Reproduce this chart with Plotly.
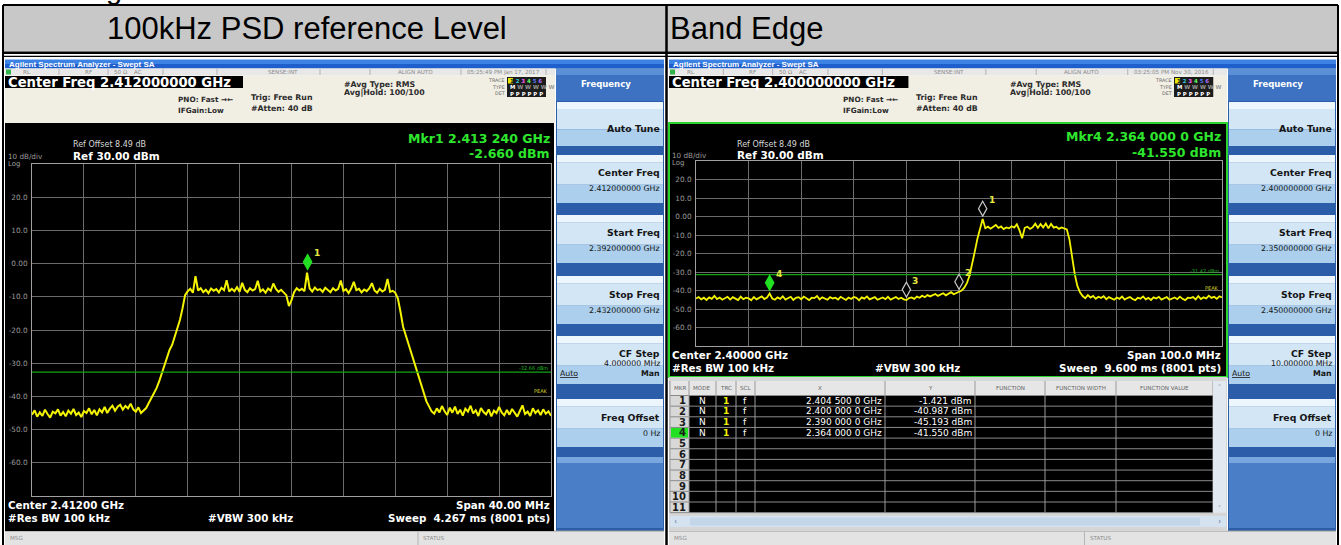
import plotly.graph_objects as go

W, H = 1341, 545

# ------------------------------------------------------------------ data
TITLE_LEFT = "100kHz PSD reference Level"
TITLE_RIGHT = "Band Edge"

REF_LEVEL_DBM = 30.0
DB_PER_DIV = 10.0
N_DIV = 10
Y_TICKS_DBM = [20, 10, 0, -10, -20, -30, -40, -50, -60]

# left screen: 100 kHz PSD reference level, 2.392 - 2.432 GHz
LEFT_START_GHZ = 2.392
LEFT_STOP_GHZ = 2.432
LEFT_STEP_GHZ = 0.0002
LEFT_TRACE_DBM = [
    -45.5, -44.2, -46.1, -44.8, -45.9, -44.0, -45.3, -46.4, -44.6, -45.1,
    -43.9, -45.8, -44.7, -46.0, -44.3, -45.2, -43.8, -45.6, -44.9, -46.2,
    -44.4, -45.0, -43.6, -45.4, -44.1, -45.7, -43.9, -44.8, -43.2, -45.0,
    -43.7, -42.8, -44.3, -43.1, -42.5, -44.0, -42.9, -43.6, -42.2, -43.9,
    -44.6, -43.3, -45.0,
    -44.2, -43.5, -42.0, -40.5, -39.0, -37.5, -35.5, -33.0, -30.5, -28.0,
    -26.0, -24.5, -22.0, -19.5, -17.0, -13.5, -9.5,
    -8.3, -7.6, -8.8, -3.8, -8.1, -7.4, -8.6, -7.9, -8.9, -7.5,
    -8.2, -7.7, -8.7, -7.3, -8.0, -5.0, -8.4, -7.6, -8.3, -7.1,
    -8.5, -5.8, -7.9, -8.6, -7.4, -8.1, -7.7, -5.2, -8.4, -7.8,
    -8.8, -7.5, -8.2, -6.0, -7.6, -8.5, -7.9, -8.7, -9.5, -12.8,
    -11.0, -8.6, -7.4, -8.1, -7.6, -8.3, -2.7, -7.5, -8.4, -7.2,
    -8.0, -7.7, -8.5, -7.3, -7.9, -8.6, -7.4, -8.1, -7.6, -5.1,
    -8.2, -7.7, -8.9, -7.5, -5.5, -8.0, -7.6, -8.7, -7.8, -8.3,
    -7.4, -5.9, -8.1, -8.8, -7.6, -8.4, -7.9, -4.6, -8.5, -8.2,
    -8.8,
    -10.5, -14.5, -19.0, -21.5, -24.0, -26.5, -29.0, -31.5, -34.0, -36.5,
    -39.0, -41.5, -43.0, -44.5,
    -45.2, -43.6, -44.8, -42.9, -44.5, -45.6, -43.4, -44.9, -43.1, -45.3,
    -44.0, -45.8, -43.7, -44.6, -42.8, -45.1, -44.2, -45.9, -43.5, -44.7,
    -45.4, -43.9, -46.0, -44.3, -45.0, -43.2, -44.8, -45.7, -44.1, -45.5,
    -43.8, -44.9, -46.1, -44.4, -42.7, -45.3, -44.6, -45.9, -43.6, -45.0,
    -44.2, -45.6, -43.9, -45.2, -44.5, -45.8,
]
LEFT_MKR_ID = [1]
LEFT_MKR_GHZ = [2.41324]
LEFT_MKR_DBM = [-2.660]
LEFT_ACTIVE_MKR = 1
LEFT_DISPLAY_LINE_DBM = -32.66

# right screen: band edge, 2.35 - 2.45 GHz
RIGHT_START_GHZ = 2.350
RIGHT_STOP_GHZ = 2.450
RIGHT_STEP_GHZ = 0.0005
RIGHT_TRACE_DBM = [
    -44.3, -43.5, -44.8, -43.9, -45.1, -43.7, -44.5, -42.9, -44.6, -43.8,
    -45.0, -44.1, -43.4, -44.9, -43.6, -44.4, -45.2, -43.3, -44.7, -43.9,
    -44.2, -45.3, -43.5, -44.8, -44.0, -43.2, -44.6, -43.8, -41.6, -44.3,
    -45.0, -43.7, -44.5, -43.1, -44.9, -44.2, -43.4, -45.1, -44.0, -43.6,
    -44.7, -43.3, -44.4, -45.2, -43.9, -44.1, -43.0, -44.8, -43.7, -44.5,
    -45.0, -43.6, -44.3, -43.9, -44.9, -43.4, -44.2, -45.1, -43.8, -44.6,
    -43.5, -44.0, -45.3, -43.7, -44.4, -43.2, -44.8, -44.1, -43.6, -45.0,
    -44.3, -43.8, -44.7, -43.4, -44.9, -44.0, -43.5, -44.6, -43.9, -44.8,
    -45.2, -44.1, -43.7, -44.5, -43.3, -43.9, -42.8, -43.6, -42.5, -43.2,
    -42.7, -41.9, -42.9, -42.2, -41.5, -42.6, -41.8, -40.9, -42.0, -41.3,
    -41.0,
    -40.0, -38.5, -36.0, -32.0, -26.0, -19.0, -12.0, -7.0,
    -1.4, -6.3, -5.5, -6.6, -5.8, -4.6, -6.2, -5.4, -6.8, -5.9,
    -6.4, -5.3, -6.0, -4.2, -7.5, -11.8, -6.1, -5.5, -6.7, -5.8,
    -3.9, -6.2, -4.1, -5.9, -3.8, -6.4, -4.0, -6.0, -5.6, -6.7,
    -5.9, -6.5, -7.0,
    -12.5, -22.0, -31.0, -37.5, -41.0, -43.0,
    -44.2, -42.5, -43.8, -42.9, -44.5, -43.4, -44.0, -43.1, -44.7, -43.6,
    -44.3, -45.0, -43.8, -44.5, -43.3, -44.9, -44.1, -43.5, -44.6, -45.2,
    -43.9, -44.4, -43.2, -44.8, -44.0, -45.1, -43.7, -44.3, -43.4, -44.9,
    -44.2, -43.6, -45.0, -44.4, -43.8, -44.7, -43.3, -44.5, -45.2, -43.9,
    -44.1, -43.5, -44.8, -43.0, -44.6, -43.7, -44.3, -42.8, -44.0, -43.4,
    -44.5, -43.1, -43.8,
]
RIGHT_MKR_ID = [1, 2, 3, 4]
RIGHT_MKR_GHZ = [2.4045, 2.4000, 2.3900, 2.3640]
RIGHT_MKR_DBM = [-1.421, -40.987, -45.193, -41.550]
RIGHT_ACTIVE_MKR = 4
RIGHT_DISPLAY_LINE_DBM = -31.42

LEFT_SCREEN_TEXT = dict(
    cf="2.412000000 GHz", stamp="05:25:49 PM Jan 17, 2017",
    center="Center 2.41200 GHz", span="Span 40.00 MHz",
    sweep="Sweep\u00a0\u00a04.267 ms (8001 pts)",
    mkr="Mkr1 2.413 240 GHz", mkrval="-2.660 dBm",
    keys=[("Center Freq", "2.412000000 GHz"), ("Start Freq", "2.392000000 GHz"),
          ("Stop Freq", "2.432000000 GHz"), ("CF Step", "4.000000 MHz"),
          ("Freq Offset", "0 Hz")],
)
RIGHT_SCREEN_TEXT = dict(
    cf="2.400000000 GHz", stamp="03:25:05 PM Nov 30, 2016",
    center="Center 2.40000 GHz", span="Span 100.0 MHz",
    sweep="Sweep\u00a0\u00a09.600 ms (8001 pts)",
    mkr="Mkr4 2.364 000 0 GHz", mkrval="-41.550 dBm",
    keys=[("Center Freq", "2.400000000 GHz"), ("Start Freq", "2.350000000 GHz"),
          ("Stop Freq", "2.450000000 GHz"), ("CF Step", "10.000000 MHz"),
          ("Freq Offset", "0 Hz")],
)
TABLE_HEADERS = ["MKR", "MODE", "TRC", "SCL", "X", "Y", "FUNCTION",
                 "FUNCTION WIDTH", "FUNCTION VALUE"]
TABLE_ROWS = 11

# ------------------------------------------------------------------ helpers
UI = "DejaVu Sans"
ARIAL = "Liberation Sans"


def px(x):
    return x / W


def py(y):
    return 1.0 - y / H


shapes = []
annos = []


def rect(x0, y0, x1, y1, fill, lc=None, lw=0, layer="below"):
    shapes.append(dict(type="rect", xref="paper", yref="paper", layer=layer,
                       x0=px(x0), x1=px(x1), y0=py(y1), y1=py(y0),
                       fillcolor=fill,
                       line=dict(color=lc or "rgba(0,0,0,0)", width=lw)))


def seg(x0, y0, x1, y1, color, width=1, layer="below"):
    shapes.append(dict(type="line", xref="paper", yref="paper", layer=layer,
                       x0=px(x0), x1=px(x1), y0=py(y0), y1=py(y1),
                       line=dict(color=color, width=width)))


def txt(x, y, s, size, color, anchor="left", bold=False, family=UI):
    annos.append(dict(xref="paper", yref="paper", x=px(x), y=py(y), text=s,
                      showarrow=False, xanchor=anchor, yanchor="middle",
                      borderpad=0,
                      font=dict(family=family, size=size, color=color,
                                weight="bold" if bold else "normal")))


def fmt_tick(v):
    return "0.00" if v == 0 else f"{v:.1f}"


def fmt_ghz(v):
    s = f"{v:.7f}"
    return f"{s[:5]} {s[5:8]} {s[8:]} GHz"


# ------------------------------------------------------------------ page frame
rect(3, 5, 1338, 51.5, "#c8c8c8")
seg(3, 5, 1338, 5, "black", 2)
seg(3, 5, 3, 545, "black", 2)
seg(1338, 5, 1338, 545, "black", 2)
seg(666.5, 5, 666.5, 545, "black", 2.5)
rect(3, 51.5, 1338, 54, "black")
rect(3, 55.8, 1338, 57, "black")
txt(106, 28, TITLE_LEFT, 31, "black", family=ARIAL)
txt(669, 28, TITLE_RIGHT, 31, "black", family=ARIAL)
annos.append(dict(xref="paper", yref="paper", x=px(104), y=py(7), text="g",
                  showarrow=False, xanchor="left", yanchor="bottom",
                  font=dict(family=ARIAL, size=29, color="black")))


def button(x0, x1, y0, y1):
    h = y1 - y0
    rect(x0, y0, x1, y0 + h * 0.16, "#eef6fd")
    rect(x0, y0 + h * 0.16, x1, y0 + h * 0.62, "#d2e6f6")
    rect(x0, y0 + h * 0.62, x1, y1, "#abcfec")


TOP_BAR = (59.5, 68.5)
STATUS = (68.5, 75.5)
CF_BOX = (76, 88)
BLACK_TOP = 123


def panel(p, T):
    b, e, s = p["x0"], p["x1"], p["s"]

    def X(r):
        return b + r * s

    sx0, sx1 = p["side"]
    # title bar
    rect(b, TOP_BAR[0], e, 64, "#3c82e4")
    rect(b, 64, e, TOP_BAR[1], "#1f5fcb")
    txt(X(3), 64, "Agilent Spectrum Analyzer - Swept SA", 8, "white",
        bold=True, family=ARIAL)
    # status row
    rect(b, STATUS[0], sx0 - 1, STATUS[1], "#e8e8e8")
    rect(X(1), 69.5, X(6), 74.5, "#2fb34a")
    for r in [54, 103, 158, 212, 315, 365, 456, 541]:
        seg(X(r), 69, X(r), 75, "#b4b4b4", 1)
    for r, lab in [(17, "RL"), (79, "RF"), (108, "50 \u03a9"), (128, "AC"),
                   (262, "SENSE:INT"), (392, "ALIGN AUTO"), (461, T["stamp"])]:
        txt(X(r), 72, lab, 5.6, "#8c8c8c")
    # beige settings area
    rect(b, STATUS[1], sx0 - 1, BLACK_TOP, "#f1eee4")
    rect(b, CF_BOX[0], X(238), CF_BOX[1], "black")
    txt(X(2), 82, "Center Freq " + T["cf"], 13.2, "white", bold=True)
    dark = "#2b2b2b"
    txt(X(172), 99.5, "PNO: Fast \u2192\u2190", 7.3, dark, bold=True)
    txt(X(172), 110, "IFGain:Low", 7.3, dark, bold=True)
    txt(X(245), 97.5, "Trig: Free Run", 7.8, dark, bold=True)
    txt(X(245), 108, "#Atten: 40 dB", 7.8, dark, bold=True)
    txt(X(338), 85, "#Avg Type: RMS", 7.8, dark, bold=True)
    txt(X(338), 92.5, "Avg|Hold: 100/100", 7.8, dark, bold=True)
    for yy, lab in [(80.5, "TRACE"), (87, "TYPE"), (93.5, "DET")]:
        txt(X(501), yy, lab, 4.8, "#666", anchor="right")
    rect(X(502), 77, X(541), 97, "#1c1c1c")
    cols = ["#202020", "#30d0e0", "#ff60ff", "#60ff60", "#5a78ff", "#b070ff"]
    row1 = " ".join(f"<span style='color:{c}'>{k + 1}</span>"
                    for k, c in enumerate(cols))
    rect(X(503), 78, X(508), 83.5, "#e6e600")
    txt(X(504), 80.7, row1, 5.4, "white", bold=True)
    txt(X(504), 87.1, "M <span style='color:#9a9a9a'>W W W W W</span>", 5.4,
        "white", bold=True)
    txt(X(504), 93.5, "P P P P P P", 5.4, "white", bold=True)

    # side menu
    rect(sx0, STATUS[0], sx1, 531, "#2b5da8")
    rect(sx0, STATUS[0], sx1, 75, "#5b8fd6")
    rect(sx0, 75, sx1, 101, "#3d72c2")
    txt((sx0 + sx1) / 2 - 4, 84, "Frequency", 8.5, "white", bold=True,
        anchor="center")
    button(sx0 + 1, sx1 - 1, 102, 146)
    txt(sx1 - 3, 128, "Auto Tune", 9.3, "#151515", bold=True, anchor="right")
    tops = [155, 215, 276, 336, 399]
    for (lab, val), t in zip(T["keys"], tops):
        button(sx0 + 1, sx1 - 1, t, t + 48)
        if lab == "CF Step":
            txt(sx1 - 3, t + 17, lab, 9.3, "#151515", bold=True, anchor="right")
            txt(sx1 - 3, t + 27, val, 7.8, "#151515", anchor="right")
            txt(sx0 + 3, t + 37, "<u>Auto</u>", 7.8, "#151515")
            txt(sx1 - 3, t + 37, "Man", 7.8, "#151515", bold=True, anchor="right")
        else:
            txt(sx1 - 3, t + 18, lab, 9.3, "#151515", bold=True, anchor="right")
            txt(sx1 - 3, t + 34, val, 7.8, "#151515", anchor="right")
    rect(sx0 + 1, 457, sx1 - 1, 463, "#7aa6e0")
    rect(sx0 + 1, 463, sx1 - 1, 528, "#4a7fc8")

    # message bar
    rect(b, 531, e, 545, "#e3e3e3")
    seg(b, 531, e, 531, "#9a9a9a", 1)
    txt(X(4), 538, "MSG", 5.6, "#8c8c8c")
    seg(X(413), 532, X(413), 545, "#b4b4b4", 1)
    txt(X(417), 538, "STATUS", 5.6, "#8c8c8c")


LEFT = dict(x0=5, x1=664, s=1.0, side=(556, 664),
            grid=(32, 551, 164, 496))
RIGHT = dict(x0=669, x1=1336, s=1.006, side=(1228, 1336),
             grid=(696, 1222, 161, 346))

panel(LEFT, LEFT_SCREEN_TEXT)
panel(RIGHT, RIGHT_SCREEN_TEXT)

# left black measurement area
rect(5, BLACK_TOP, 554, 531, "black")
# right black measurement area with active-window border
rect(669, BLACK_TOP, 1227, 377, "black", lc="#2bd42b", lw=2)


def screen_text(p, T, ref_y, mkr_y):
    gx1 = p["grid"][1]
    b = p["x0"]
    gy1 = p["grid"][3]
    txt(b + 67, ref_y - 10.5, "Ref Offset 8.49 dB", 8, "#d8d8d8")
    txt(b + 67, ref_y, "Ref 30.00 dBm", 10.5, "white", bold=True)
    txt(b + 2, ref_y + 1, "10 dB/div", 7.2, "#9c9c9c")
    txt(b + 2, ref_y + 8.5, "Log", 7, "#9c9c9c")
    txt(gx1, mkr_y, T["mkr"], 12.5, "#2ee62e", bold=True, anchor="right")
    txt(gx1, mkr_y + 15, T["mkrval"], 12.5, "#2ee62e", bold=True, anchor="right")
    txt(b + 2, gy1 + 8.5, T["center"], 10.3, "white", bold=True)
    txt(b + 2, gy1 + 22, "#Res BW 100 kHz", 10.3, "white", bold=True)
    txt(b + (gx1 - b) * 0.45, gy1 + 22, "#VBW 300 kHz", 10.3, "white",
        bold=True, anchor="center")
    txt(gx1, gy1 + 8.5, T["span"], 10.3, "white", bold=True, anchor="right")
    txt(gx1, gy1 + 22, T["sweep"], 10.3, "white", bold=True, anchor="right")


screen_text(LEFT, LEFT_SCREEN_TEXT, 155.5, 138.5)
screen_text(RIGHT, RIGHT_SCREEN_TEXT, 154.5, 137)

# ------------------------------------------------------------------ marker table (right)
TX0, TX1 = 669, 1227
rect(TX0, 377, TX1, 531, "#d6d6d6")
COL_EDGES = [670, 689, 716, 736, 755, 885, 975, 1045, 1116, 1213]
HDR_Y0, ROW_Y0, ROW_H = 381, 395.5, 10.65
rect(670, HDR_Y0, 1213, ROW_Y0, "#e6e6e6")
rect(689, ROW_Y0, 1213, ROW_Y0 + TABLE_ROWS * ROW_H, "black")
rect(670, ROW_Y0, 689, ROW_Y0 + TABLE_ROWS * ROW_H, "#d8d8d8")
for k in range(TABLE_ROWS + 1):
    yy = ROW_Y0 + k * ROW_H
    seg(670, yy, 1213, yy, "#8a8a8a", 1)
for xe in COL_EDGES:
    seg(xe, HDR_Y0, xe, ROW_Y0 + TABLE_ROWS * ROW_H, "#9a9a9a", 1)
for lab, a, c in zip(TABLE_HEADERS, COL_EDGES[:-1], COL_EDGES[1:]):
    txt((a + c) / 2, (HDR_Y0 + ROW_Y0) / 2, lab, 5.6, "#666", anchor="center")
for k in range(TABLE_ROWS):
    yc = ROW_Y0 + (k + 0.5) * ROW_H
    num = k + 1
    if num == RIGHT_ACTIVE_MKR:
        rect(671, ROW_Y0 + k * ROW_H + 0.5, 688, ROW_Y0 + (k + 1) * ROW_H - 0.5,
             "#22e022")
    txt(687, yc, str(num), 10, "#1a1a1a", bold=True, anchor="right")
for mid, ghz, dbm in zip(RIGHT_MKR_ID, RIGHT_MKR_GHZ, RIGHT_MKR_DBM):
    yc = ROW_Y0 + (mid - 0.5) * ROW_H
    txt(702.5, yc, "N", 9, "white", anchor="center")
    txt(726, yc, "1", 9, "#f0f000", bold=True, anchor="center")
    txt(745.5, yc, "f", 9, "white", anchor="center")
    txt(883, yc, fmt_ghz(ghz), 9, "white", anchor="right")
    txt(973, yc, f"{dbm:.3f} dBm", 9, "white", anchor="right")
# scrollbars
rect(1213, HDR_Y0, 1226, ROW_Y0 + TABLE_ROWS * ROW_H, "#e2e8ef")
txt(1219.5, HDR_Y0 + 5, "\u02c4", 6, "#6a7c94", anchor="center")
txt(1219.5, ROW_Y0 + TABLE_ROWS * ROW_H - 5, "\u02c5", 6, "#6a7c94", anchor="center")
rect(670, 516, 1226, 527, "#d5e3f1")
rect(690, 517.5, 1200, 525.5, "#c3d6ea")
txt(673, 521.5, "\u2039", 8, "#6a7c94")
txt(1222, 521.5, "\u203a", 8, "#6a7c94", anchor="right")

# ------------------------------------------------------------------ spectrum plots
fig = go.Figure()


def trace_x(start, step, vals):
    return [start + step * i for i in range(len(vals))]


fig.add_trace(go.Scatter(
    x=trace_x(LEFT_START_GHZ, LEFT_STEP_GHZ, LEFT_TRACE_DBM), y=LEFT_TRACE_DBM,
    xaxis="x", yaxis="y", mode="lines", hoverinfo="skip",
    line=dict(color="#f4f400", width=2.0)))
fig.add_trace(go.Scatter(
    x=trace_x(RIGHT_START_GHZ, RIGHT_STEP_GHZ, RIGHT_TRACE_DBM), y=RIGHT_TRACE_DBM,
    xaxis="x2", yaxis="y2", mode="lines", hoverinfo="skip",
    line=dict(color="#f4f400", width=1.8)))


def axes(p, start, stop):
    gx0, gx1, gy0, gy1 = p["grid"]
    common = dict(showgrid=True, gridcolor="#6c6c6c", gridwidth=1, zeroline=False,
                  showline=True, mirror=True, linecolor="#a0a0a0", linewidth=1,
                  ticks="", fixedrange=True, automargin=False)
    xa = dict(domain=[px(gx0), px(gx1)], range=[start, stop],
              tickvals=[start + k * (stop - start) / N_DIV for k in range(N_DIV + 1)],
              showticklabels=False, **common)
    ya = dict(domain=[py(gy1), py(gy0)],
              range=[REF_LEVEL_DBM - N_DIV * DB_PER_DIV, REF_LEVEL_DBM],
              tickvals=Y_TICKS_DBM, ticktext=[fmt_tick(v) for v in Y_TICKS_DBM],
              tickfont=dict(family=UI, size=7.3, color="#9a9a9a"),
              ticklabelstandoff=2, **common)
    return xa, ya


xa1, ya1 = axes(LEFT, LEFT_START_GHZ, LEFT_STOP_GHZ)
xa2, ya2 = axes(RIGHT, RIGHT_START_GHZ, RIGHT_STOP_GHZ)
xa1["anchor"] = "y"
ya1["anchor"] = "x"
xa2["anchor"] = "y2"
ya2["anchor"] = "x2"

# display lines + labels
for xr, yr, dl in [("x", "y", LEFT_DISPLAY_LINE_DBM), ("x2", "y2", RIGHT_DISPLAY_LINE_DBM)]:
    shapes.append(dict(type="line", xref=f"{xr} domain", yref=yr, x0=0, x1=1,
                       y0=dl, y1=dl, layer="above",
                       line=dict(color="#15a515", width=1.2)))
    annos.append(dict(xref=f"{xr} domain", yref=yr, x=0.998, y=dl, yshift=4,
                      text=f"{dl:.2f} dBm", showarrow=False, xanchor="right",
                      yanchor="middle",
                      font=dict(family=UI, size=5, color="#20b020")))
    annos.append(dict(xref=f"{xr} domain", yref=yr, x=0.998, y=-38.5,
                      text="PEAK", showarrow=False, xanchor="right",
                      yanchor="middle",
                      font=dict(family=UI, size=5, color="#d4d430")))

# markers (diamonds drawn just above the marker point)
DIAMOND = "M 0,3 L 4.2,10.5 L 0,18 L -4.2,10.5 Z"
for xr, yr, ids, ghzs, dbms, act in [
        ("x", "y", LEFT_MKR_ID, LEFT_MKR_GHZ, LEFT_MKR_DBM, LEFT_ACTIVE_MKR),
        ("x2", "y2", RIGHT_MKR_ID, RIGHT_MKR_GHZ, RIGHT_MKR_DBM, RIGHT_ACTIVE_MKR)]:
    for mid, g, d in zip(ids, ghzs, dbms):
        active = mid == act
        shapes.append(dict(type="path", xref=xr, yref=yr, xsizemode="pixel",
                           ysizemode="pixel", xanchor=g, yanchor=d, path=DIAMOND,
                           layer="above",
                           fillcolor="#22e022" if active else "black",
                           line=dict(color="#22e022" if active else "#c8c8c8",
                                     width=1.2)))
        annos.append(dict(xref=xr, yref=yr, x=g, y=d, xshift=9, yshift=19,
                          text=str(mid), showarrow=False, xanchor="center",
                          yanchor="middle",
                          font=dict(family=UI, size=9, color="#e8e840",
                                    weight="bold")))

fig.update_layout(
    width=W, height=H, margin=dict(l=0, r=0, t=0, b=0),
    template="none", paper_bgcolor="white", plot_bgcolor="black",
    showlegend=False, xaxis=xa1, yaxis=ya1, xaxis2=xa2, yaxis2=ya2,
    shapes=shapes, annotations=annos,
)

fig.write_html("out.html",
               config={"displayModeBar": False, "staticPlot": True},
               post_script="document.body.style.margin='0px';"
                           "document.body.style.padding='0px';"
                           "document.body.style.overflow='hidden';")
